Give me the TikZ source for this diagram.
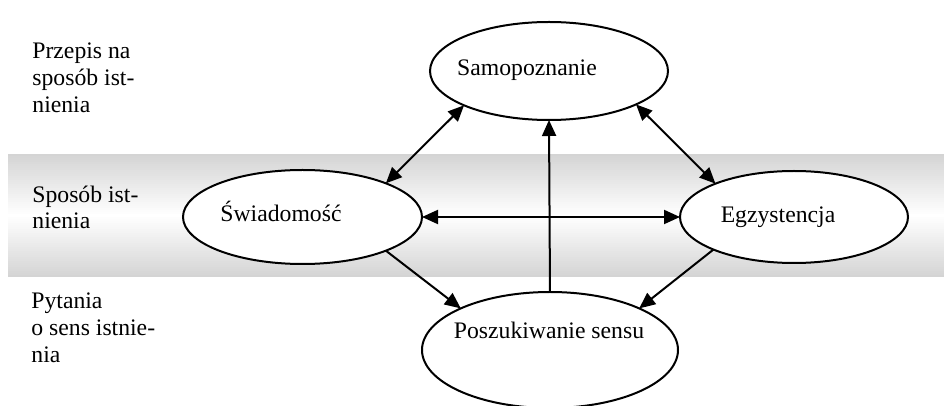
\documentclass[tikz,border=0pt]{standalone}
\usepackage{fontspec}
\setmainfont{Liberation Serif}
\usetikzlibrary{shapes.geometric,arrows.meta}
\tikzset{
  ell/.style={ellipse, draw=black, line width=1pt, fill=white, inner sep=0pt, outer sep=0pt},
  lab/.style={anchor=base, inner sep=0pt, text=black},
  side/.style={anchor=base west, inner sep=0pt, text=black},
  arr/.style={line width=1pt, draw=black, arrows={-Triangle[length=8pt,width=7pt]}},
  arrb/.style={line width=1pt, draw=black, arrows={Triangle[length=8pt,width=7pt]-Triangle[length=8pt,width=7pt]}}
}
\begin{document}
\begin{tikzpicture}[x=0.5pt,y=-0.5pt,font=\fontsize{11.85}{13}\selectfont]
\clip (0,0) rectangle (944,406);
\fill[white] (0,0) rectangle (944,406);
% band with vertical gradient (grey - white - grey)
\foreach \i in {0,...,60} {
  \pgfmathsetmacro\yy{154+\i*2.0164}
  \pgfmathsetmacro\yt{min(\yy+2.2,277)}
  \pgfmathsetmacro\amt{34*abs(\yy+1-215.5)/61.5}
  \fill[gray!\amt] (8,\yy) rectangle (944,\yt);
}
% ellipses
\node[ell, minimum width=119pt, minimum height=49pt] (sam) at (549,71) {};
\node[ell, minimum width=119.5pt, minimum height=47pt] (sw) at (302.5,217) {};
\node[ell, minimum width=114pt, minimum height=46pt] (eg) at (794,217) {};
\node[ell, minimum width=128pt, minimum height=58pt] (pos) at (550,350) {};
% ellipse texts
\node[lab] (tsam) at (527,76) {Samopoznanie};
\node[lab] (tsw) at (281,222) {Świadomość};
\node[lab] (teg) at (778,223) {Egzystencja};
\node[lab] (tpos) at (549,339) {Poszukiwanie sensu};
% side labels
\node[side] (a1) at (32,59) {Przepis na};
\node[side] (a2) at (32,86) {sposób ist-};
\node[side] (a3) at (32,113) {nienia};
\node[side] (b1) at (32,203) {Sposób ist-};
\node[side] (b2) at (32,229) {nienia};
\node[side] (c1) at (31,309) {Pytania};
\node[side] (c2) at (31,336) {o sens istnie-};
\node[side] (c3) at (31,363) {nia};
% connectors
\draw[arrb] (sam.202) -- (sw.22);
\draw[arrb] (sam.339) -- (eg.157);
\draw[arrb] (sw.0) -- (eg.180);
\draw[arr] (pos.90) -- (sam.270);
\draw[arr] (sw.338) -- (pos.155);
\draw[arr] (eg.202) -- (pos.25);
\end{tikzpicture}
\end{document}
